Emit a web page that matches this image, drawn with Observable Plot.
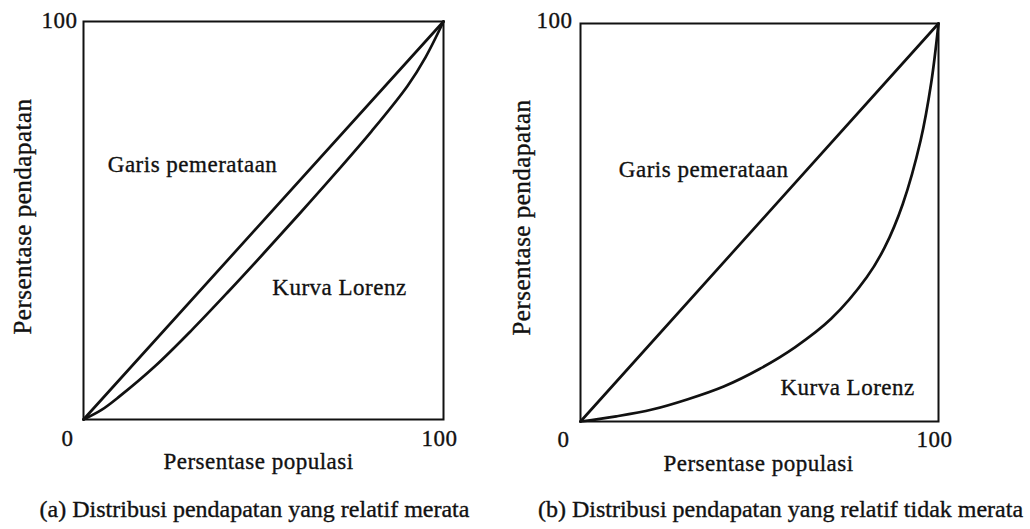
<!DOCTYPE html>
<html>
<head>
<meta charset="utf-8">
<script src="https://cdn.jsdelivr.net/npm/d3@7"></script>
<script src="https://cdn.jsdelivr.net/npm/@observablehq/plot@0.6"></script>
<style>
  html, body { margin: 0; padding: 0; background: #fff; }
  #wrap { position: relative; width: 1030px; height: 529px; overflow: hidden; background: #fff; }
  svg text { letter-spacing: 0.5px; }
  svg text.cap, svg g.cap text { letter-spacing: 0px; }
</style>
</head>
<body>
<div id="wrap"></div>
<script>
// ---- data ----
const xLabel = "Persentase populasi";
const yLabel = "Persentase pendapatan";
const captions = [
  "(a) Distribusi pendapatan yang relatif merata",
  "(b) Distribusi pendapatan yang relatif tidak merata"
];
const curveNames = ["Garis pemerataan", "Kurva Lorenz"];
const tickZero = "0";
const tickHundred = "100";

// line of equality (both panels)
const equalityX = [0, 100];
const equalityY = [0, 100];

// Lorenz curve, panel (a): relatively equal
const lorenzAX = [0, 5, 10, 20, 30, 40, 50, 60, 70, 80, 90, 95, 100];
const lorenzAY = [0, 2.4, 5.8, 13.5, 22.4, 31.9, 41.7, 51.7, 61.9, 72.4, 83.8, 91, 100];

// Lorenz curve, panel (b): relatively unequal
const lorenzBX = [0, 10, 20, 30, 40, 50, 60, 70, 80, 85, 90, 95, 98, 100];
const lorenzBY = [0, 1.3, 3, 5.6, 8.8, 13.2, 18.7, 25.8, 36.3, 43.8, 54.6, 70.6, 85.3, 100];

// ---- layout ----
const FONT = "'Liberation Serif', 'Times New Roman', serif";
const INK = "#111";
const TXT = {fill: INK, stroke: INK, strokeWidth: 0.35};

const panels = [
  {
    left: 0, width: 500,
    margin: {top: 21, right: 57, bottom: 110, left: 83},
    lx: lorenzAX, ly: lorenzAY,
    labelPos: [[30.3, 64.1], [71.1, 33.2]],
    yTickOff: [-6, -1], zeroOff: [-16, 19], hundredOff: [-4, 19],
    xLabelOff: [-5, 42], yLabelOff: [-61, -4], captionOff: [-9, 90],
    caption: captions[0]
  },
  {
    left: 500, width: 530,
    margin: {top: 23, right: 92, bottom: 108, left: 80},
    lx: lorenzBX, ly: lorenzBY,
    labelPos: [[34.4, 63.3], [74.6, 8.5]],
    yTickOff: [-8, -3], zeroOff: [-17, 18], hundredOff: [-4, 18],
    xLabelOff: [-1, 42], yLabelOff: [-59, -5], captionOff: [21, 88],
    caption: captions[1]
  }
];

const wrap = document.getElementById("wrap");

for (const p of panels) {
  const lorenz = p.lx.map((x, i) => ({x, y: p.ly[i]}));
  const equality = equalityX.map((x, i) => ({x, y: equalityY[i]}));
  const labels = curveNames.map((name, i) => ({name, x: p.labelPos[i][0], y: p.labelPos[i][1]}));

  const chart = Plot.plot({
    width: p.width,
    height: 529,
    marginTop: p.margin.top,
    marginRight: p.margin.right,
    marginBottom: p.margin.bottom,
    marginLeft: p.margin.left,
    x: {domain: [0, 100], axis: null},
    y: {domain: [0, 100], axis: null},
    style: {fontFamily: FONT, background: "transparent", color: INK, overflow: "visible"},
    marks: [
      Plot.frame({stroke: INK, strokeWidth: 2}),
      Plot.line(equality, {x: "x", y: "y", stroke: INK, strokeWidth: 2.7}),
      Plot.line(lorenz, {x: "x", y: "y", stroke: INK, strokeWidth: 2.7, curve: "catmull-rom"}),
      Plot.text(labels, {x: "x", y: "y", text: "name", fontSize: 23, ...TXT}),
      // tick labels
      Plot.text([tickHundred], {x: 0, y: 100, text: d => d, textAnchor: "end", fontSize: 23, ...TXT, dx: p.yTickOff[0], dy: p.yTickOff[1]}),
      Plot.text([tickZero], {x: 0, y: 0, text: d => d, fontSize: 23, ...TXT, dx: p.zeroOff[0], dy: p.zeroOff[1]}),
      Plot.text([tickHundred], {x: 100, y: 0, text: d => d, fontSize: 23, ...TXT, dx: p.hundredOff[0], dy: p.hundredOff[1]}),
      // axis labels
      Plot.text([xLabel], {x: 50, y: 0, text: d => d, fontSize: 23, ...TXT, dx: p.xLabelOff[0], dy: p.xLabelOff[1]}),
      Plot.text([yLabel], {x: 0, y: 50, text: d => d, rotate: -90, fontSize: 25, ...TXT, dx: p.yLabelOff[0], dy: p.yLabelOff[1]}),
      // caption
      Plot.text([p.caption], {x: 50, y: 0, text: d => d, fontSize: 24, ...TXT, className: "cap", dx: p.captionOff[0], dy: p.captionOff[1]})
    ]
  });
  chart.style.position = "absolute";
  chart.style.left = p.left + "px";
  chart.style.top = "0px";
  wrap.appendChild(chart);
}
</script>
</body>
</html>
